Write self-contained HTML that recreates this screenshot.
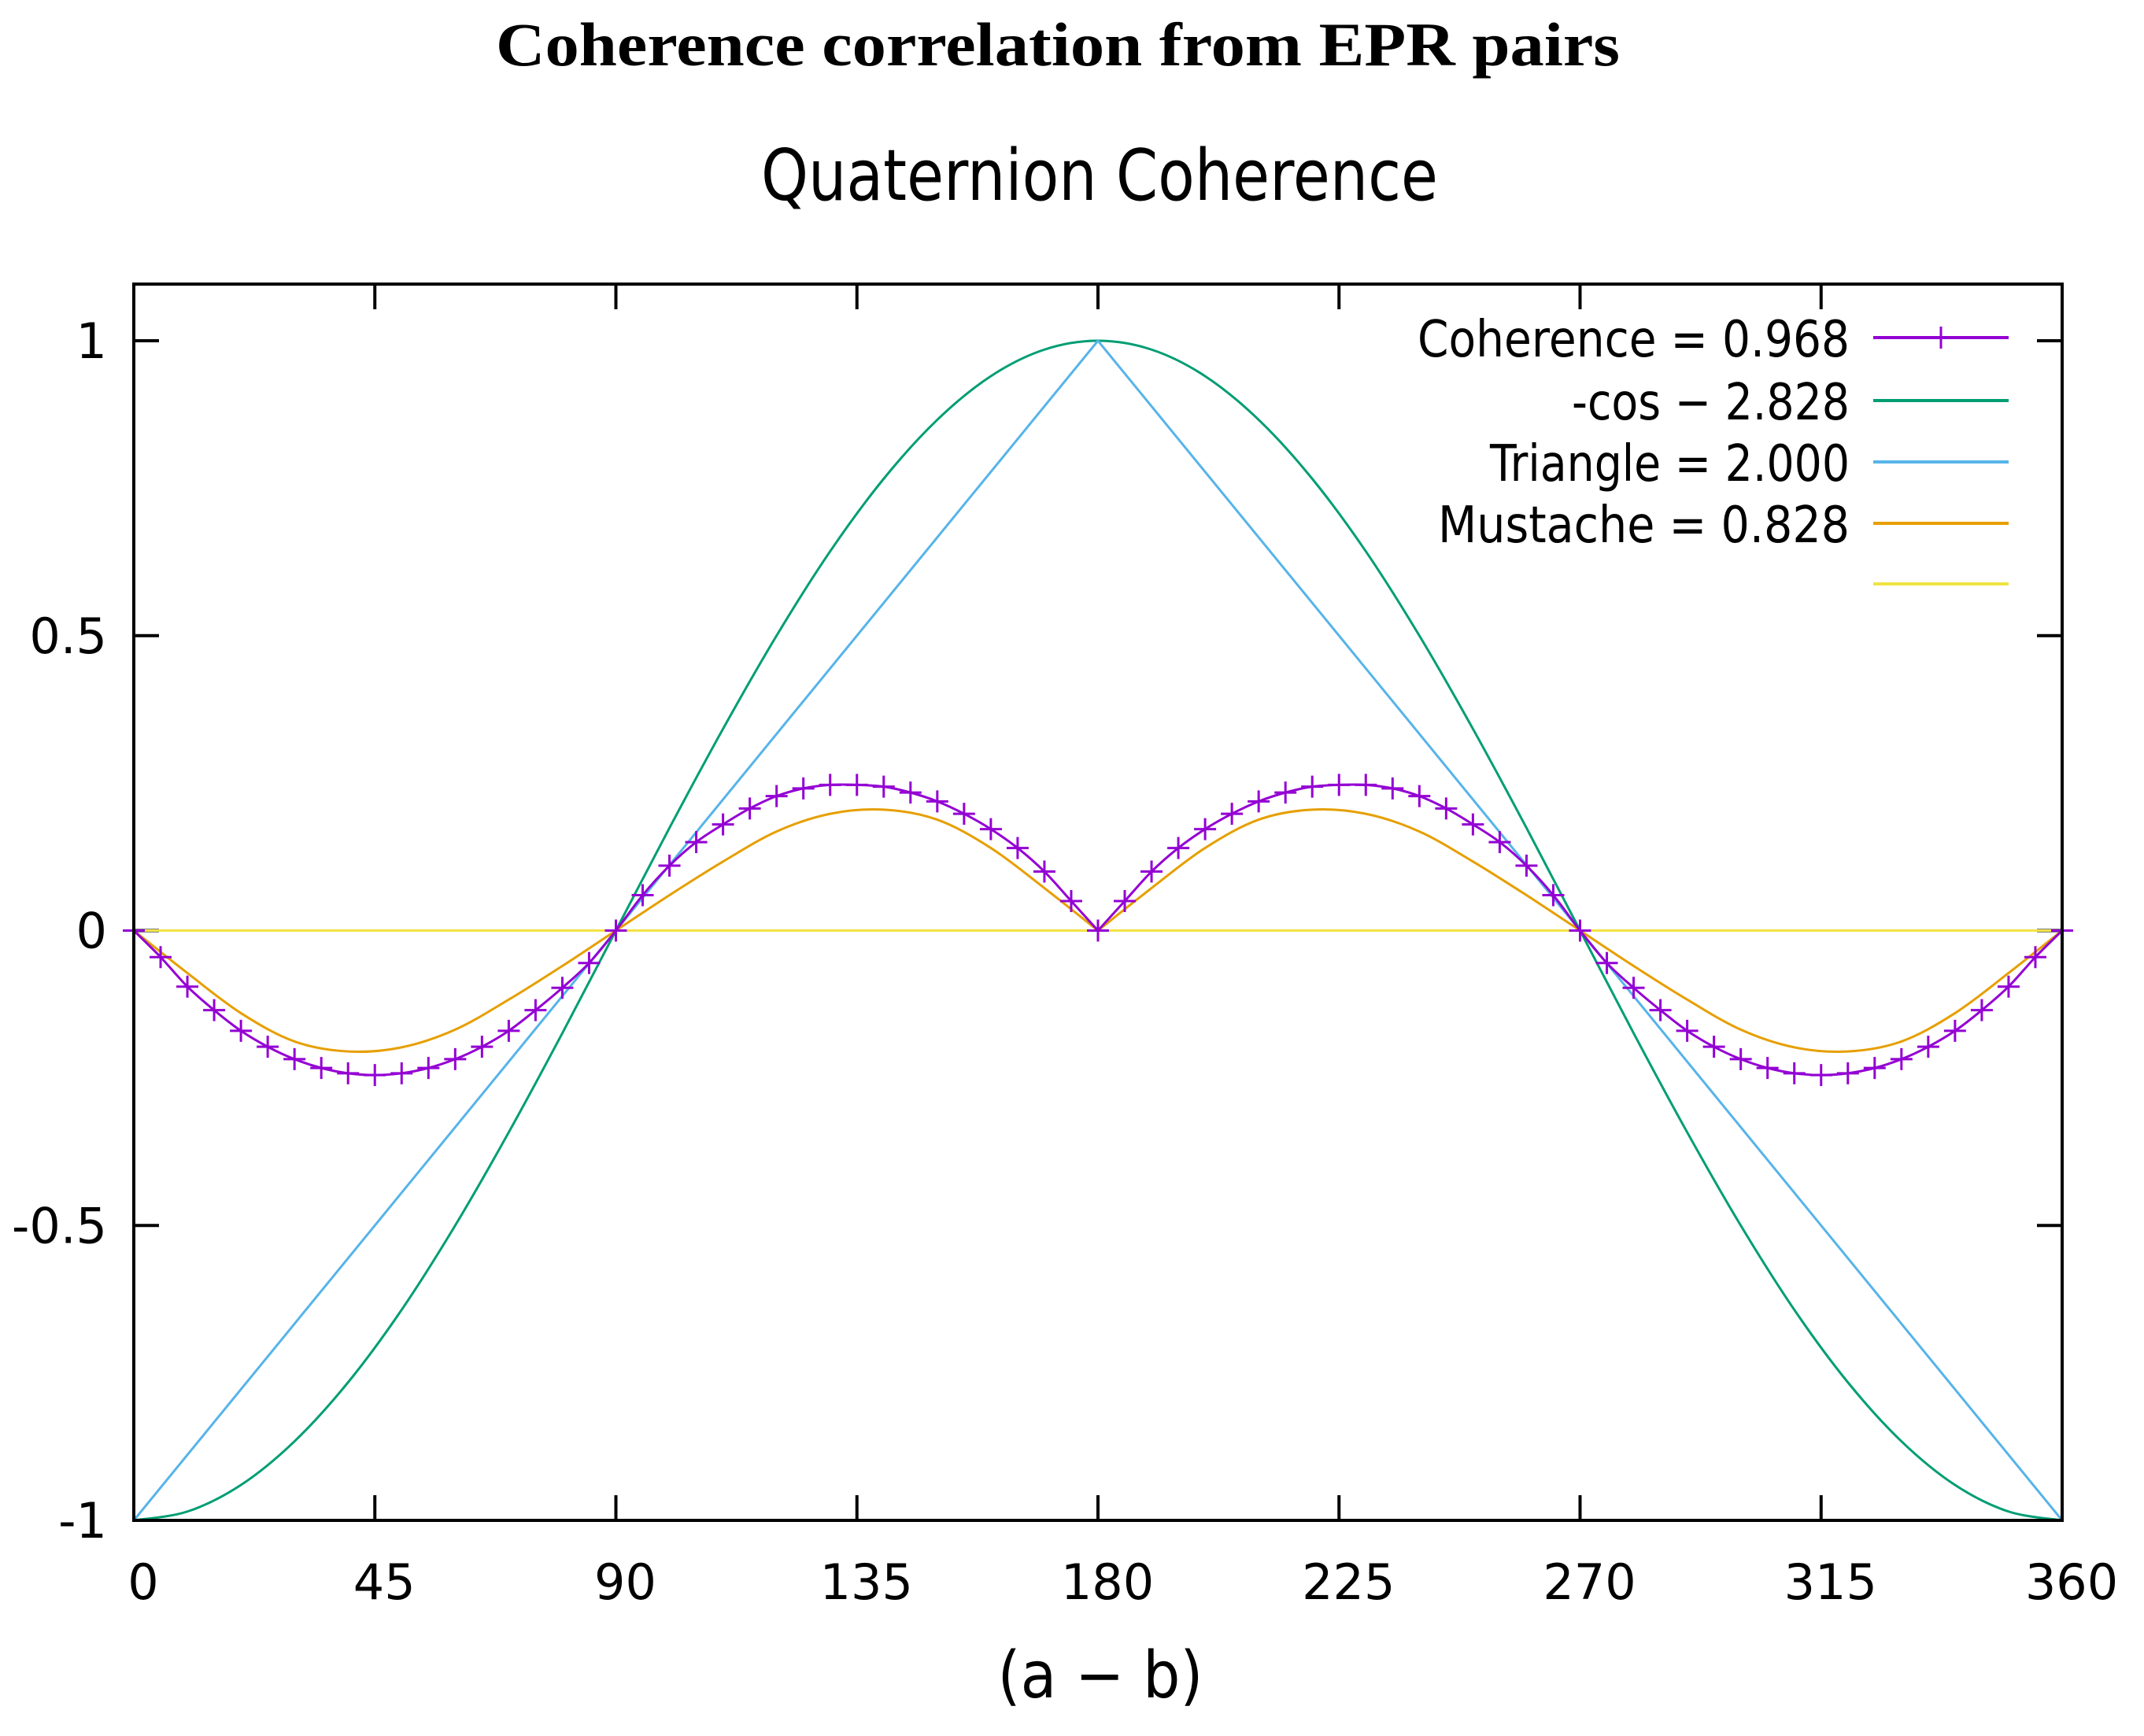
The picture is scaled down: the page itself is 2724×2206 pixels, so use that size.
<!DOCTYPE html>
<html><head><meta charset="utf-8"><style>
html,body{margin:0;padding:0;background:#fff;}
svg{display:block;}
text{font-family:"DejaVu Sans","Liberation Sans",sans-serif;fill:#000;}
</style></head><body>
<svg id="chart" width="2724" height="2206" viewBox="0 0 2724 2206" xmlns="http://www.w3.org/2000/svg">
<text x="1344" y="83" text-anchor="middle" font-size="78" font-weight="bold" textLength="1428" lengthAdjust="spacingAndGlyphs" style="font-family:'Liberation Serif',serif">Coherence correlation from EPR pairs</text>
<text x="1397" y="254" text-anchor="middle" font-size="90" textLength="860" lengthAdjust="spacingAndGlyphs">Quaternion Coherence</text>
<text x="1398" y="2157" text-anchor="middle" font-size="82" textLength="261" lengthAdjust="spacingAndGlyphs">(a − b)</text>
<g id="grid"></g>
<g id="series"></g>
<rect x="170" y="361" width="2450" height="1571" fill="none" stroke="#000" stroke-width="4"/>
<g id="legend"></g>
</svg>
<script>
const xTicks = [0,45,90,135,180,225,270,315,360];
const yTicks = [-1,-0.5,0,0.5,1];
const yTickLabels = ["-1","-0.5","0","0.5","1"];
const cohAngles = [0,5,10,15,20,25,30,35,40,45,50,55,60,65,70,75,80,85,90,95,100,105,110,115,120,125,130,135,140,145,150,155,160,165,170,175,180,185,190,195,200,205,210,215,220,225,230,235,240,245,250,255,260,265,270,275,280,285,290,295,300,305,310,315,320,325,330,335,340,345,350,355,360];
const cohValues = [0,-0.045,-0.095,-0.135,-0.17,-0.197,-0.218,-0.233,-0.242,-0.245,-0.242,-0.233,-0.218,-0.197,-0.17,-0.135,-0.097,-0.055,0,0.06,0.11,0.15,0.18,0.207,0.228,0.241,0.247,0.247,0.244,0.234,0.219,0.198,0.172,0.14,0.1,0.05,0,0.05,0.1,0.14,0.172,0.198,0.219,0.234,0.244,0.247,0.247,0.241,0.228,0.207,0.18,0.15,0.11,0.06,0,-0.055,-0.097,-0.135,-0.17,-0.197,-0.218,-0.233,-0.242,-0.245,-0.242,-0.233,-0.218,-0.197,-0.17,-0.135,-0.095,-0.045,0];
const curveAngles = [0,10,20,30,40,50,60,70,80,90,100,110,120,130,140,150,160,170,180,190,200,210,220,230,240,250,260,270,280,290,300,310,320,330,340,350,360];
const cosValues = [-1,-0.985,-0.94,-0.866,-0.766,-0.643,-0.5,-0.342,-0.174,0,0.174,0.342,0.5,0.643,0.766,0.866,0.94,0.985,1,0.985,0.94,0.866,0.766,0.643,0.5,0.342,0.174,0,-0.174,-0.342,-0.5,-0.643,-0.766,-0.866,-0.94,-0.985,-1];
const mustacheValues = [0,-0.072,-0.14,-0.188,-0.205,-0.198,-0.168,-0.117,-0.06,0,0.06,0.117,0.168,0.198,0.205,0.188,0.14,0.072,0,0.072,0.14,0.188,0.205,0.198,0.168,0.117,0.06,0,-0.06,-0.117,-0.168,-0.198,-0.205,-0.188,-0.14,-0.072,0];
const triAngles = [0,180,360];
const triValues = [-1,1,-1];
const zeroAngles = [0,360];
const zeroValues = [0,0];
const legendLabels = ["Coherence = 0.968","-cos − 2.828","Triangle = 2.000","Mustache = 0.828",""];
const legendColors = ["#9400d3","#009e73","#56b4e9","#e69f00","#f0e442"];
const legendWidths = [549,353,457,523,0];

const X0=170,X1=2620,YT=433,YB=1932;
const NS="http://www.w3.org/2000/svg";
function sx(v){return X0+(v/360)*(X1-X0);}
function sy(v){return YB-((v+1)/2)*(YB-YT);}
function mk(tag,attrs,parent){const e=document.createElementNS(NS,tag);for(const k in attrs)e.setAttribute(k,attrs[k]);parent.appendChild(e);return e;}
const grid=document.getElementById('grid'),ser=document.getElementById('series'),leg=document.getElementById('legend');

xTicks.forEach(t=>{
  const x=sx(t);
  const a=mk('line',{x1:x,x2:x,y1:YB,y2:YB-32,stroke:'#000','stroke-width':4},grid);
  
  
  const b=mk('line',{x1:x,x2:x,y1:361,y2:393,stroke:'#000','stroke-width':4},grid);
  
  
  const l=mk('text',{x:x+12,y:2032,'text-anchor':'middle','font-size':62},grid);
  l.textContent=String(t);
  
  
});
yTicks.forEach((t,i)=>{
  const y=sy(t);
  const a=mk('line',{x1:X0,x2:X0+32,y1:y,y2:y,stroke:'#000','stroke-width':4},grid);
  
  
  const b=mk('line',{x1:X1,x2:X1-32,y1:y,y2:y,stroke:'#000','stroke-width':4},grid);
  
  
  const l=mk('text',{x:136,y:y+22,'text-anchor':'end','font-size':62},grid);
  l.textContent=yTickLabels[i];
  
  
});

function smoothPath(xs,ys){
  const P=xs.map((a,i)=>[sx(a),sy(ys[i])]);
  let d='M'+P[0][0]+','+P[0][1];
  for(let i=0;i<P.length-1;i++){
    const p0=P[Math.max(0,i-1)],p1=P[i],p2=P[i+1],p3=P[Math.min(P.length-1,i+2)];
    const c1=[p1[0]+(p2[0]-p0[0])/6,p1[1]+(p2[1]-p0[1])/6];
    const c2=[p2[0]-(p3[0]-p1[0])/6,p2[1]-(p3[1]-p1[1])/6];
    d+=' C'+c1[0]+','+c1[1]+' '+c2[0]+','+c2[1]+' '+p2[0]+','+p2[1];
  }
  return d;
}
function linePath(xs,ys){return xs.map((a,i)=>(i?'L':'M')+sx(a)+','+sy(ys[i])).join(' ');}

const z=mk('path',{d:linePath(zeroAngles,zeroValues),fill:'none',stroke:legendColors[4],'stroke-width':3},ser);


const c=mk('path',{d:smoothPath(curveAngles,cosValues),fill:'none',stroke:legendColors[1],'stroke-width':3},ser);


const tr=mk('path',{d:linePath(triAngles,triValues),fill:'none',stroke:legendColors[2],'stroke-width':3},ser);


const m1=mk('path',{d:smoothPath(curveAngles.slice(0,19),mustacheValues.slice(0,19)),fill:'none',stroke:legendColors[3],'stroke-width':3},ser);


const m2=mk('path',{d:smoothPath(curveAngles.slice(18),mustacheValues.slice(18)),fill:'none',stroke:legendColors[3],'stroke-width':3},ser);


const h1=mk('path',{d:smoothPath(cohAngles.slice(0,37),cohValues.slice(0,37)),fill:'none',stroke:legendColors[0],'stroke-width':3},ser);


const h2=mk('path',{d:smoothPath(cohAngles.slice(36),cohValues.slice(36)),fill:'none',stroke:legendColors[0],'stroke-width':3},ser);


cohAngles.forEach((a,i)=>{
  const x=sx(a),y=sy(cohValues[i]);
  const p=mk('path',{d:'M'+(x-14)+','+y+'H'+(x+14)+'M'+x+','+(y-14)+'V'+(y+14),stroke:legendColors[0],'stroke-width':3},ser);
  
  
});

const rowY=[429,509,587,665,742];
legendLabels.forEach((lab,i)=>{
  const y=rowY[i];
  const attrs={x:2350,y:y+24,'text-anchor':'end','font-size':64};
  if(legendWidths[i]>0){attrs.textLength=legendWidths[i];attrs.lengthAdjust='spacingAndGlyphs';}
  const t=mk('text',attrs,leg);
  t.textContent=lab;
  
  
  const l=mk('line',{x1:2380,x2:2552,y1:y,y2:y,stroke:legendColors[i],'stroke-width':4},leg);
  
  
});
const lm=mk('line',{x1:2466,x2:2466,y1:415,y2:443,stroke:legendColors[0],'stroke-width':3},leg);


</script>
</body></html>
